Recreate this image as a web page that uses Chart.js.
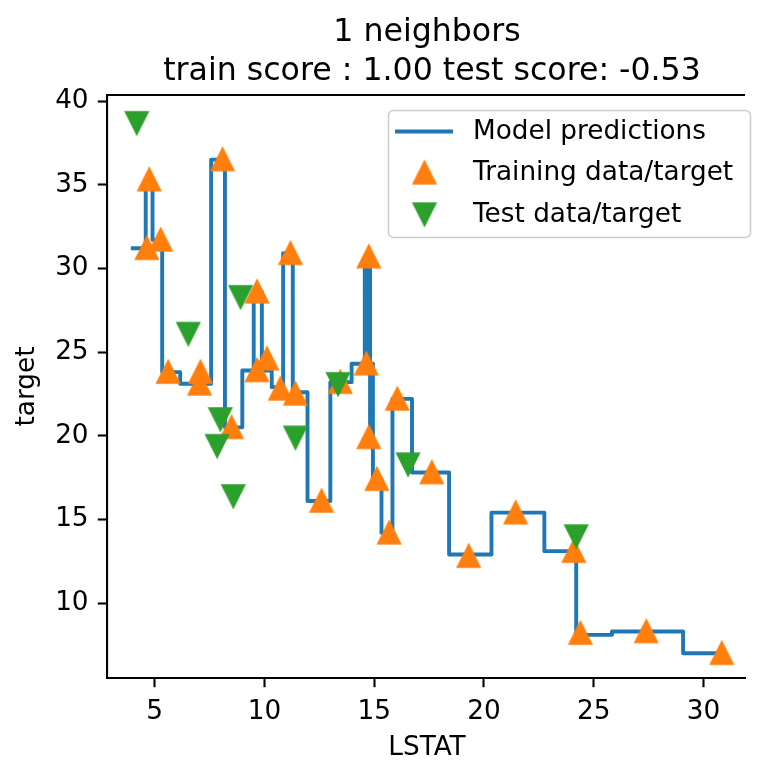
<!DOCTYPE html>
<html>
<head>
<meta charset="utf-8">
<script src="https://cdn.jsdelivr.net/npm/chart.js@4.4.0/dist/chart.umd.min.js"></script>
<style>
  html, body { margin: 0; padding: 0; background: #fff; }
  #wrap { width: 758px; height: 764px; }
</style>
</head>
<body>
<div id="wrap"><canvas id="knnChart" width="758" height="764"></canvas></div>
<script>
// training samples (LSTAT -> target)
const lstatTrain = [4.64, 4.75, 5.27, 5.61, 7.04, 7.08, 8.09, 8.50, 9.66, 9.66, 10.11, 10.72, 11.18, 11.41, 12.60,
  13.45, 14.64, 14.75, 14.75, 15.12, 15.68, 16.05, 17.62, 19.30, 21.44, 24.09, 24.39, 27.39, 30.83];
const targetTrain = [31.2, 35.3, 31.7, 23.8, 23.1, 23.8, 36.5, 20.5, 23.9, 28.6, 24.6, 22.8, 30.9, 22.5, 16.1,
  23.2, 24.3, 30.7, 19.9, 17.4, 14.2, 22.2, 17.8, 12.8, 15.4, 13.1, 8.2, 8.3, 7.0];

// held-out samples
const lstatTest = [4.18, 6.53, 7.84, 7.99, 8.58, 8.91, 11.41, 13.35, 16.54, 24.20];
const targetTest = [38.7, 26.1, 19.4, 21.0, 16.4, 28.3, 19.9, 23.1, 18.3, 14.0];

// 1-NN prediction: each level starts at predStartX and holds until the next one
const predStartX = [4.00, 4.59, 4.90, 5.34, 6.16, 7.57, 8.20, 8.99, 9.51, 9.88, 10.33, 10.85, 11.29, 11.96, 13.00,
  13.97, 14.57, 14.68, 14.75, 14.81, 14.88, 14.94, 15.33, 15.83, 16.72, 18.41, 20.34, 22.75, 24.20, 25.83, 29.07, 30.95];
const predLevel = [31.2, 35.3, 31.7, 23.8, 23.1, 36.5, 20.5, 23.9, 28.6, 23.9, 22.9, 30.9, 22.6, 16.1, 23.2,
  24.3, 30.7, 24.3, 30.7, 19.9, 24.3, 17.4, 14.2, 22.2, 17.8, 12.9, 15.4, 13.1, 8.1, 8.3, 7.0, 7.0];

const xTicks = [5, 10, 15, 20, 25, 30];
const yTicks = [10, 15, 20, 25, 30, 35, 40];

const titleLines = ["1 neighbors", " train score : 1.00 test score: -0.53"];
const xLabel = "LSTAT";
const yLabel = "target";

const X_MIN = 2.826, X_MAX = 31.89, X_SPINE_RIGHT = 31.98;
const Y_MIN = 5.52, Y_MAX = 40.36;

const FONT = "'DejaVu Sans', sans-serif";
const BASE_PX = 26.3;
const TITLE_PX = 31.6;
const SPINE_W = 2.1;
const TICK_LEN = 9.2;
const MARKER_SIZE = 21;
const MARKER_EDGE = 2.6;

const BLUE = "#1f77b4";
const ORANGE = "#ff7f0e";
const GREEN = "#2ca02c";

function makeTriangle(color, up) {
  const c = document.createElement("canvas");
  c.width = 36;
  c.height = 36;
  const g = c.getContext("2d");
  const h = MARKER_SIZE / 2;
  const d = up ? 1 : -1;
  g.beginPath();
  g.moveTo(18, 18 - d * h);
  g.lineTo(18 - h, 18 + d * h);
  g.lineTo(18 + h, 18 + d * h);
  g.closePath();
  g.fillStyle = color;
  g.fill();
  g.lineWidth = MARKER_EDGE;
  g.lineJoin = "miter";
  g.strokeStyle = color;
  g.stroke();
  return c;
}

const triUp = makeTriangle(ORANGE, true);
const triDown = makeTriangle(GREEN, false);

const toPoints = (xs, ys) => xs.map((x, i) => ({ x: x, y: ys[i] }));

// frame, title, axis labels and the boxed legend
const decorations = {
  id: "decorations",
  afterDatasetsDraw(chart) {
    const { ctx, chartArea } = chart;
    ctx.save();
    ctx.strokeStyle = "#000";
    ctx.lineWidth = SPINE_W;
    ctx.beginPath();
    ctx.moveTo(chartArea.left - SPINE_W / 2, chartArea.top);
    ctx.lineTo(chartArea.right, chartArea.top);
    ctx.stroke();
    ctx.restore();
  },
  afterDraw(chart) {
    const { ctx, chartArea } = chart;
    const xs = chart.scales.x;
    const midX = (chartArea.left + xs.getPixelForValue(X_SPINE_RIGHT)) / 2;
    const midY = (chartArea.top + chartArea.bottom) / 2;

    ctx.save();
    ctx.fillStyle = "#000";
    ctx.textAlign = "center";
    ctx.textBaseline = "alphabetic";
    ctx.font = TITLE_PX + "px " + FONT;
    ctx.fillText(titleLines[0], midX, 41);
    ctx.fillText(titleLines[1], midX, 79.5);

    ctx.font = BASE_PX + "px " + FONT;
    ctx.fillText(xLabel, midX, 755);

    ctx.save();
    ctx.translate(34, midY);
    ctx.rotate(-Math.PI / 2);
    ctx.fillText(yLabel, 0, 0);
    ctx.restore();

    // legend
    const bx = 388.5, by = 110.5, bw = 362, bh = 127, r = 5;
    ctx.beginPath();
    ctx.moveTo(bx + r, by);
    ctx.arcTo(bx + bw, by, bx + bw, by + bh, r);
    ctx.arcTo(bx + bw, by + bh, bx, by + bh, r);
    ctx.arcTo(bx, by + bh, bx, by, r);
    ctx.arcTo(bx, by, bx + bw, by, r);
    ctx.closePath();
    ctx.fillStyle = "rgba(255,255,255,0.8)";
    ctx.fill();
    ctx.lineWidth = 1.5;
    ctx.strokeStyle = "#cccccc";
    ctx.stroke();

    ctx.textAlign = "left";
    chart.data.datasets.forEach((ds, i) => {
      const base = 139 + i * 41.3;
      const hy = base - 7.5;
      if (ds.showLine) {
        ctx.strokeStyle = ds.borderColor;
        ctx.lineWidth = ds.borderWidth;
        ctx.lineCap = "square";
        ctx.beginPath();
        ctx.moveTo(397, hy);
        ctx.lineTo(451, hy);
        ctx.stroke();
      } else {
        const img = ds.pointStyle;
        ctx.drawImage(img, 424.5 - img.width / 2, hy - img.height / 2);
      }
      ctx.fillStyle = "#000";
      ctx.fillText(ds.label, 473, base);
    });
    ctx.restore();
  }
};

Chart.defaults.font.family = FONT;
Chart.defaults.color = "#000";

const tickFont = { size: BASE_PX };
const axisGrid = {
  drawOnChartArea: false,
  drawTicks: true,
  tickLength: TICK_LEN,
  tickWidth: SPINE_W,
  tickColor: "#000"
};

new Chart(document.getElementById("knnChart"), {
  type: "scatter",
  data: {
    datasets: [
      {
        label: "Model predictions",
        data: toPoints(predStartX, predLevel),
        showLine: true,
        stepped: true,
        borderColor: BLUE,
        borderWidth: 3.9,
        borderJoinStyle: "round",
        borderCapStyle: "square",
        pointRadius: 0,
        fill: false,
        order: 3
      },
      {
        label: "Training data/target",
        data: toPoints(lstatTrain, targetTrain),
        pointStyle: triUp,
        pointRadius: 12,
        backgroundColor: ORANGE,
        borderColor: ORANGE,
        order: 2
      },
      {
        label: "Test data/target",
        data: toPoints(lstatTest, targetTest),
        pointStyle: triDown,
        pointRadius: 12,
        backgroundColor: GREEN,
        borderColor: GREEN,
        order: 1
      }
    ]
  },
  options: {
    responsive: false,
    animation: false,
    events: [],
    layout: { padding: { top: 95, right: 0, bottom: 0, left: 0 } },
    plugins: {
      legend: { display: false },
      tooltip: { enabled: false }
    },
    scales: {
      x: {
        type: "linear",
        min: X_MIN,
        max: X_MAX,
        grid: axisGrid,
        border: { display: true, color: "#000", width: SPINE_W },
        afterFit: (scale) => {
          scale.height = 86;
          scale.paddingLeft = 0;
          scale.paddingRight = 0;
        },
        afterBuildTicks: (scale) => { scale.ticks = xTicks.map((v) => ({ value: v })); },
        ticks: { font: tickFont, padding: 9.2, maxRotation: 0, autoSkip: false }
      },
      y: {
        type: "linear",
        min: Y_MIN,
        max: Y_MAX,
        grid: axisGrid,
        border: { display: true, color: "#000", width: SPINE_W },
        afterFit: (scale) => {
          scale.width = 107;
          scale.paddingTop = 0;
          scale.paddingBottom = 0;
        },
        afterBuildTicks: (scale) => { scale.ticks = yTicks.map((v) => ({ value: v })); },
        ticks: { font: tickFont, padding: 9.2, autoSkip: false }
      }
    }
  },
  plugins: [decorations]
});
</script>
</body>
</html>
